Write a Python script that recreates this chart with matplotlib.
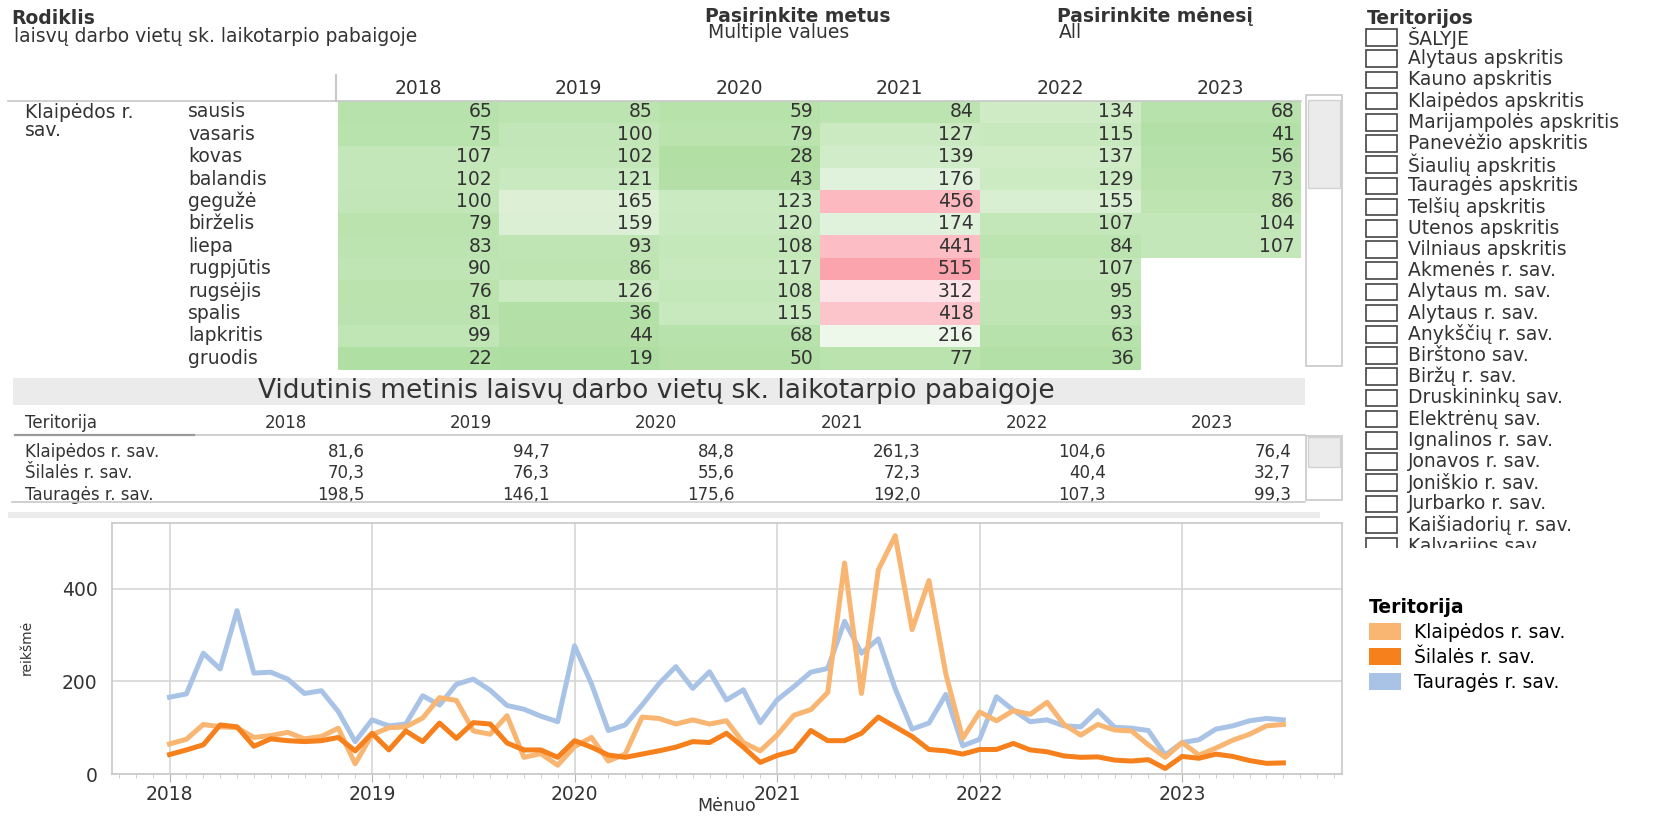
import numpy as np
import matplotlib
matplotlib.use("Agg")
import matplotlib.pyplot as plt
import matplotlib.transforms as mtransforms
from matplotlib.colors import LinearSegmentedColormap, Normalize
from matplotlib.patches import Rectangle, Patch
from matplotlib.lines import Line2D

plt.rcParams['font.family'] = ['DejaVu Sans']

# ---- data -------------------------------------------------------------
years = [2018, 2019, 2020, 2021, 2022, 2023]
months = ['sausis', 'vasaris', 'kovas', 'balandis', 'gegužė', 'birželis',
          'liepa', 'rugpjūtis', 'rugsėjis', 'spalis', 'lapkritis', 'gruodis']

# monthly values, 2018-01 .. 2023-07
klaipedos = [65, 75, 107, 102, 100, 79, 83, 90, 76, 81, 99, 22,
             85, 100, 102, 121, 165, 159, 93, 86, 126, 36, 44, 19,
             59, 79, 28, 43, 123, 120, 108, 117, 108, 115, 68, 50,
             84, 127, 139, 176, 456, 174, 441, 515, 312, 418, 216, 77,
             134, 115, 137, 129, 155, 107, 84, 107, 95, 93, 63, 36,
             68, 41, 56, 73, 86, 104, 107]
silales = [42, 52, 63, 106, 102, 60, 76, 72, 70, 72, 79, 50,
           88, 52, 93, 70, 110, 77, 111, 108, 67, 52, 52, 36,
           72, 58, 41, 36, 43, 50, 58, 70, 68, 88, 58, 25,
           40, 50, 94, 72, 72, 88, 123, 102, 81, 53, 50, 43,
           53, 53, 66, 52, 48, 39, 36, 37, 30, 28, 31, 12,
           38, 34, 43, 38, 29, 23, 24]
taurages = [166, 173, 261, 227, 353, 218, 220, 205, 174, 180, 135, 70,
            117, 104, 108, 169, 149, 194, 205, 181, 148, 140, 125, 113,
            277, 195, 94, 106, 149, 195, 232, 185, 221, 160, 182, 111,
            160, 189, 220, 228, 330, 261, 292, 184, 97, 110, 172, 61,
            75, 167, 138, 113, 117, 104, 102, 137, 101, 99, 94, 41,
            68, 74, 97, 104, 115, 120, 117]

# yearly averages table
avg_names = ['Klaipėdos r. sav.', 'Šilalės r. sav.', 'Tauragės r. sav.']
avg_klaipedos = [81.6, 94.7, 84.8, 261.3, 104.6, 76.4]
avg_silales = [70.3, 76.3, 55.6, 72.3, 40.4, 32.7]
avg_taurages = [198.5, 146.1, 175.6, 192.0, 107.3, 99.3]

territories = ['ŠALYJE', 'Alytaus apskritis', 'Kauno apskritis', 'Klaipėdos apskritis',
               'Marijampolės apskritis', 'Panevėžio apskritis', 'Šiaulių apskritis',
               'Tauragės apskritis', 'Telšių apskritis', 'Utenos apskritis',
               'Vilniaus apskritis', 'Akmenės r. sav.', 'Alytaus m. sav.',
               'Alytaus r. sav.', 'Anykščių r. sav.', 'Birštono sav.', 'Biržų r. sav.',
               'Druskininkų sav.', 'Elektrėnų sav.', 'Ignalinos r. sav.',
               'Jonavos r. sav.', 'Joniškio r. sav.', 'Jurbarko r. sav.',
               'Kaišiadorių r. sav.', 'Kalvarijos sav.']

# ---- layout helpers (reference pixel coords) ----------------------------
W, H = 1657, 818
fig = plt.figure(figsize=(W / 100, H / 100), dpi=100)

TXT = '#333333'
LINE = '#c8c8c8'
FS = 13.5


def fxy(x, y):
    return x / W, 1 - y / H


def box(x0, y0, x1, y1):
    return [x0 / W, 1 - y1 / H, (x1 - x0) / W, (y1 - y0) / H]


def hline(x0, x1, y, color=LINE, lw=1.2):
    fig.add_artist(Line2D([x0 / W, x1 / W], [1 - y / H, 1 - y / H], color=color, lw=lw))


def vline(x, y0, y1, color=LINE, lw=1.2):
    fig.add_artist(Line2D([x / W, x / W], [1 - y0 / H, 1 - y1 / H], color=color, lw=lw))


def rect(x0, y0, x1, y1, fc, ec='none', lw=1.0):
    fig.add_artist(Rectangle((x0 / W, 1 - y1 / H), (x1 - x0) / W, (y1 - y0) / H,
                             transform=fig.transFigure, fc=fc, ec=ec, lw=lw))


# ---- header --------------------------------------------------------------
fig.text(*fxy(11, 18), 'Rodiklis', fontsize=FS, weight='bold', color=TXT, va='center')
fig.text(*fxy(14, 36), 'laisvų darbo vietų sk. laikotarpio pabaigoje', fontsize=FS, color=TXT, va='center')
fig.text(*fxy(705, 17), 'Pasirinkite metus', fontsize=FS, weight='bold', color=TXT, va='center')
fig.text(*fxy(708, 33), 'Multiple values', fontsize=FS, color=TXT, va='center')
fig.text(*fxy(1057, 17), 'Pasirinkite mėnesį', fontsize=FS, weight='bold', color=TXT, va='center')
fig.text(*fxy(1059, 33), 'All', fontsize=FS, color=TXT, va='center')
fig.text(*fxy(1367, 18), 'Teritorijos', fontsize=FS, weight='bold', color=TXT, va='center')

# ---- heatmap table -------------------------------------------------------
grid = np.full((12, len(years)), np.nan)
for k, v in enumerate(klaipedos):
    grid[k % 12, k // 12] = v

cmap = LinearSegmentedColormap.from_list('gr', [
    (0.00, '#acdd9f'), (0.15, '#bae3ae'), (0.25, '#cdebc4'), (0.35, '#e4f3df'),
    (0.46, '#f3faf1'), (0.54, '#fdeef0'), (0.62, '#fde1e5'), (0.82, '#fcc3ca'),
    (1.00, '#fba3ac')])

ax_hm = fig.add_axes(box(338, 100.7, 1301, 369.5))
ax_hm.pcolormesh(np.arange(len(years) + 1), np.arange(13), np.ma.masked_invalid(grid),
                 cmap=cmap, norm=Normalize(0, 520))
ax_hm.set_xlim(0, len(years))
ax_hm.set_ylim(12, 0)
ax_hm.axis('off')
for i in range(12):
    for j in range(len(years)):
        if not np.isnan(grid[i, j]):
            ax_hm.text(j + 0.96, i + 0.5, f'{int(grid[i, j])}', ha='right', va='center',
                       fontsize=FS, color=TXT)
for j, y in enumerate(years):
    ax_hm.text(j + 0.5, -0.55, str(y), ha='center', va='center', fontsize=FS, color=TXT,
               clip_on=False)
tr = mtransforms.blended_transform_factory(fig.transFigure, ax_hm.transData)
for i, m in enumerate(months):
    ax_hm.text(188 / W, i + 0.5, m, transform=tr, ha='left', va='center', fontsize=FS,
               color=TXT, clip_on=False)
fig.text(*fxy(25, 112), 'Klaipėdos r.', fontsize=FS, color=TXT, va='center')
fig.text(*fxy(25, 130), 'sav.', fontsize=FS, color=TXT, va='center')
vline(336, 75, 100.7, lw=1.5)
hline(8, 1301, 100.7)

# scrollbar
rect(1306, 95, 1342, 366, 'white', LINE, 1.2)
rect(1308, 100, 1340, 188, '#ebebeb', '#d2d2d2', 1.0)

# ---- averages table --------------------------------------------------------
rect(12.6, 378, 1305, 405, '#ebebeb')
fig.text(*fxy(656, 391), 'Vidutinis metinis laisvų darbo vietų sk. laikotarpio pabaigoje',
         fontsize=19, color=TXT, ha='center', va='center')

FS_T = 12
row_h = 21.65
ax_av = fig.add_axes(box(193, 412, 1305, 502))
ax_av.set_xlim(0, len(years))
ax_av.set_ylim((502 - 451.7) / row_h, (412 - 451.7) / row_h)
ax_av.axis('off')
tr_av = mtransforms.blended_transform_factory(fig.transFigure, ax_av.transData)
hdr_y = (423 - 451.7) / row_h
ax_av.text(25 / W, hdr_y, 'Teritorija', transform=tr_av, fontsize=FS_T, color=TXT,
           va='center', clip_on=False)
for j, y in enumerate(years):
    ax_av.text(j + 0.5, hdr_y, str(y), ha='center', va='center', fontsize=FS_T, color=TXT)
for i, (name, vals) in enumerate(zip(avg_names, [avg_klaipedos, avg_silales, avg_taurages])):
    ax_av.text(25 / W, i, name, transform=tr_av, fontsize=FS_T, color=TXT, va='center',
               clip_on=False)
    for j, v in enumerate(vals):
        ax_av.text(j + 0.925, i, f'{v:.1f}'.replace('.', ','), ha='right', va='center',
                   fontsize=FS_T, color=TXT)
hline(15, 1305, 434.5)
hline(15, 194, 434.5, color='#9a9a9a', lw=1.6)
hline(12, 1305, 502)
rect(1306, 436, 1342, 500, 'white', LINE, 1.2)
rect(1308, 437, 1340, 467, '#ebebeb', '#d2d2d2', 1.0)

# separator band
rect(8, 512, 1320, 518, '#ececec')

# ---- line chart -----------------------------------------------------------
t = 2018 + np.arange(len(klaipedos)) / 12
c_kl, c_si, c_ta = '#f8b672', '#f5801c', '#a9c3e6'

ax = fig.add_axes(box(111.6, 522.7, 1341.7, 774))
ax.plot(t, taurages, color=c_ta, lw=3.6, solid_joinstyle='round', zorder=3)
ax.plot(t, klaipedos, color=c_kl, lw=3.6, solid_joinstyle='round', zorder=4)
ax.plot(t, silales, color=c_si, lw=3.6, solid_joinstyle='round', zorder=5)
ax.set_xlim(2017.714, 2023.788)
ax.set_ylim(0, 543)
ax.set_xticks(years)
ax.set_xticklabels([str(y) for y in years])
ax.set_xticks(np.arange(2017.75, 2023.79, 1 / 12), minor=True)
ax.set_yticks([0, 200, 400])
ax.grid(which='major', color='#d6d6d6', lw=1.2)
for s in ax.spines.values():
    s.set_color(LINE)
    s.set_linewidth(1.2)
ax.tick_params(axis='x', which='major', length=6, color='#b5b5b5', labelsize=FS,
               labelcolor=TXT, pad=2)
ax.tick_params(axis='x', which='minor', length=3, color='#c8c8c8')
ax.tick_params(axis='y', length=0, labelsize=FS, labelcolor=TXT, pad=10)
ax.set_ylabel('reikšmė', fontsize=10, color=TXT)
ax.yaxis.set_label_coords(-0.0635, 0.505)
ax.set_xlabel('Mėnuo', fontsize=12.5, color=TXT, va='center')
ax.xaxis.set_label_coords(0.5, (774 - 806) / (774 - 522.7))

handles = [Patch(fc=c_kl), Patch(fc=c_si), Patch(fc=c_ta)]
ax.legend(handles, avg_names, title='Teritorija', loc='upper left',
          bbox_to_anchor=fxy(1369, 598), bbox_transform=fig.transFigure,
          frameon=False, borderpad=0, borderaxespad=0, handlelength=1.7,
          handleheight=0.95, handletextpad=0.7, labelspacing=0.32, fontsize=FS,
          title_fontproperties={'weight': 'bold', 'size': FS}, alignment='left')

# ---- territory selector -----------------------------------------------------
ax_l = fig.add_axes(box(1345, 27, 1657, 548))
ax_l.set_xlim(1345, 1657)
ax_l.set_ylim((548 - 37.5) / 21.2, (27 - 37.5) / 21.2)
ax_l.axis('off')
for i, name in enumerate(territories):
    ax_l.add_patch(Rectangle((1365.7, i - 0.387), 31.6, 0.774, fill=False, ec='#444444', lw=1.2))
    ax_l.text(1408, i, name, va='center', fontsize=FS, color=TXT, clip_on=True)

fig.savefig('out.png', dpi=100)
